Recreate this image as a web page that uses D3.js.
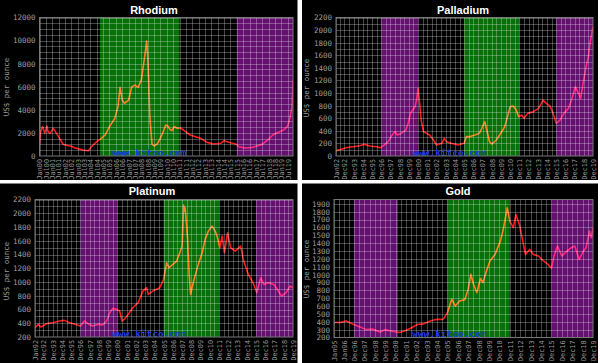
<!doctype html>
<html>
<head>
<meta charset="utf-8">
<style>
  body { margin: 0; background: #fff; }
  svg { display: block; }
</style>
</head>
<body>
<svg width="600" height="363"></svg>
<script src="https://d3js.org/d3.v7.min.js"></script>
<script>
  const parseMonth = d3.timeParse("%Y-%m");
  const parseTick = d3.timeParse("%b%y");

  // prices in US$ per ounce
  const rhodium = [
    ["2000-01",1100],["2000-02",2100],["2000-04",2540],["2000-06",1960],["2000-08",2600],["2000-09",2100],
    ["2000-11",1960],["2001-01",2250],["2001-02",2400],["2001-05",1960],["2001-08",1530],["2001-11",1040],
    ["2002-01",950],["2002-06",865],["2002-12",660],["2003-06",520],["2003-11",460],["2004-02",800],
    ["2004-07",1240],["2004-10",1440],["2005-03",1820],["2005-07",2540],["2005-12",3260],["2006-03",4270],
    ["2006-05",5940],["2006-07",4850],["2006-09",4560],["2007-01",4850],["2007-04",6000],["2007-07",6140],
    ["2007-10",5940],["2008-01",6580],["2008-03",7875],["2008-05",9170],["2008-06",9950],["2008-07",8740],
    ["2008-08",6290],["2008-09",3400],["2008-11",1040],["2009-01",865],["2009-04",1040],["2009-06",1380],
    ["2009-09",1960],["2009-12",2680],["2010-02",2600],["2010-04",2300],["2010-06",2200],["2010-08",2540],
    ["2010-11",2400],["2011-02",2420],["2011-07",2100],["2011-11",1820],["2012-04",1670],["2012-09",1530],
    ["2013-03",1180],["2013-09",1040],["2014-04",1100],["2014-07",1330],["2015-01",1150],["2015-06",1040],
    ["2015-09",800],["2016-03",690],["2016-10",750],["2017-02",865],["2017-07",1010],["2017-12",1380],
    ["2018-05",1820],["2018-09",2020],["2019-02",2200],["2019-05",2400],["2019-07",2600],["2019-09",3260],
    ["2019-11",4270],["2019-12",6580]
  ];
  const palladium = [
    ["1992-01",85],["1992-08",106],["1993-02",132],["1993-11",148],["1994-08",164],["1995-02",185],
    ["1995-09",159],["1996-06",148],["1996-11",132],["1997-04",175],["1997-09",227],["1998-02",333],
    ["1998-06",386],["1998-09",333],["1999-02",360],["1999-08",412],["1999-11",518],["2000-02",677],
    ["2000-05",730],["2000-08",783],["2000-10",888],["2000-12",1073],["2001-02",836],["2001-04",571],
    ["2001-07",386],["2001-11",360],["2002-03",333],["2002-08",254],["2002-12",175],["2003-07",201],
    ["2003-10",280],["2004-01",227],["2004-07",201],["2005-04",175],["2005-12",201],["2006-03",307],
    ["2006-07",307],["2007-02",333],["2007-08",360],["2008-01",492],["2008-03",545],["2008-05",440],
    ["2008-09",230],["2008-12",190],["2009-06",254],["2010-01",386],["2010-05",465],["2010-09",650],
    ["2010-12",783],["2011-04",793],["2011-08",730],["2011-11",624],["2012-03",650],["2012-06",598],
    ["2012-11",677],["2013-06",703],["2014-01",756],["2014-07",888],["2014-11",836],["2015-04",793],
    ["2015-08",677],["2015-12",518],["2016-05",571],["2016-10",677],["2017-04",756],["2017-08",888],
    ["2018-01",1100],["2018-05",994],["2018-08",915],["2018-11",1153],["2019-03",1417],["2019-06",1576],
    ["2019-08",1787],["2019-12",2052]
  ];
  const platinum = [
    ["1992-01",336],["1992-05",384],["1992-09",345],["1993-04",394],["1993-12",408],["1994-09",432],
    ["1995-03",442],["1995-10",408],["1996-05",384],["1996-12",360],["1997-05",432],["1997-10",394],
    ["1998-04",360],["1998-11",384],["1999-05",374],["1999-10",432],["2000-02",554],["2000-06",616],
    ["2000-11",602],["2001-03",578],["2001-06",432],["2001-09",457],["2002-02",529],["2002-08",626],
    ["2003-03",699],["2003-09",868],["2004-02",917],["2004-04",820],["2004-10",868],["2005-07",917],
    ["2005-12",1038],["2006-04",1280],["2006-07",1207],["2006-12",1256],["2007-05",1304],["2007-09",1425],
    ["2007-12",1520],["2008-02",2120],["2008-03",2030],["2008-04",2080],["2008-07",1650],["2008-09",1150],
    ["2008-11",820],["2009-03",1014],["2009-09",1256],["2010-02",1425],["2010-06",1619],["2010-10",1740],
    ["2011-03",1813],["2011-07",1740],["2011-10",1643],["2012-01",1498],["2012-04",1667],["2012-07",1425],
    ["2012-11",1716],["2013-03",1498],["2013-09",1450],["2014-04",1522],["2014-08",1304],["2015-02",1110],
    ["2015-09",965],["2016-01",844],["2016-06",1062],["2016-10",965],["2017-04",989],["2017-11",965],
    ["2018-05",868],["2018-09",796],["2019-03",844],["2019-08",941],["2019-12",917]
  ];
  const gold = [
    ["1995-01",390],["1995-08",390],["1996-03",411],["1996-11",369],["1997-07",335],["1998-02",300],
    ["1998-10",306],["1999-06",270],["1999-12",300],["2000-05",285],["2001-01",270],["2001-05",263],
    ["2001-11",285],["2002-06",320],["2003-02",369],["2003-08",370],["2004-04",410],["2004-12",433],
    ["2005-07",430],["2005-12",517],["2006-05",686],["2006-09",600],["2007-02",665],["2007-08",680],
    ["2007-12",820],["2008-03",1004],["2008-06",877],["2008-10",771],["2009-02",950],["2009-05",898],
    ["2009-09",1046],["2010-01",1173],["2010-07",1257],["2011-01",1426],["2011-04",1553],["2011-08",1786],
    ["2011-09",1849],["2011-12",1680],["2012-04",1596],["2012-07",1765],["2012-11",1638],["2013-03",1426],
    ["2013-06",1257],["2013-11",1321],["2014-03",1257],["2014-09",1236],["2015-03",1173],["2015-08",1130],
    ["2015-12",1080],["2016-03",1236],["2016-07",1363],["2016-12",1236],["2017-06",1300],["2017-11",1342],
    ["2018-03",1363],["2018-08",1194],["2019-01",1300],["2019-04",1342],["2019-08",1553],["2019-10",1469],
    ["2019-12",1596]
  ];

  // x tick labels
  const rhodiumTicks = ["Jan00","Jul00","Jan01","Jul01","Jan02","Jul02","Jan03","Jul03","Jan04","Jul04",
    "Jan05","Jul05","Jan06","Jul06","Jan07","Jul07","Jan08","Jul08","Jan09","Jul09","Jan10","Jul10",
    "Jan11","Jul11","Jan12","Jul12","Jan13","Jul13","Jan14","Jul14","Jan15","Jul15","Jan16","Jul16",
    "Jan17","Jul17","Jan18","Jul18","Jan19","Jul19"];
  const pgmTicks = ["Jan92","Dec92","Dec93","Dec94","Dec95","Dec96","Dec97","Dec98","Dec99","Dec00",
    "Dec01","Dec02","Dec03","Dec04","Dec05","Dec06","Dec07","Dec08","Dec09","Dec10","Dec11","Dec12",
    "Dec13","Dec14","Dec15","Dec16","Dec17","Dec18","Dec19"];
  const goldTicks = ["Jan95","Jan96","Dec96","Dec97","Dec98","Dec99","Dec00","Dec01","Dec02","Dec03",
    "Dec04","Dec05","Dec06","Dec07","Dec08","Dec09","Dec10","Dec11","Dec12","Dec13","Dec14","Dec15",
    "Dec16","Dec17","Dec18","Dec19"];

  // y tick labels
  const rhodiumY = [0,2000,4000,6000,8000,10000,12000];
  const palladiumY = [0,200,400,600,800,1000,1200,1400,1600,1800,2000,2200];
  const platinumY = [200,400,600,800,1000,1200,1400,1600,1800,2000,2200];
  const goldY = [200,300,400,500,600,700,800,900,1000,1100,1200,1300,1400,1500,1600,1700,1800,1900];

  // shaded periods
  const rhodiumShades = [["green","2004-10","2011-01"],["purple","2015-07","2019-12"]];
  const pgmShades = [["purple","1996-12","2000-12"],["green","2005-12","2011-12"],["purple","2015-12","2019-12"]];
  const goldShades = [["purple","1996-12","2001-03"],["green","2005-12","2011-12"],["purple","2015-12","2019-12"]];

  const shadeColor = {green: "#087008", purple: "#64106f"};
  const mono = "'DejaVu Sans Mono', monospace";

  const panels = [
    {title: "Rhodium", data: rhodium, xTicks: rhodiumTicks, yTicks: rhodiumY, shades: rhodiumShades,
     xDom: ["2000-01","2019-12"], yDom: [0,12000], yGrid: 500, halfGrid: false,
     box: [0,0,297.5,180], l: 39.5, t: 17.5, r: 293, b: 156, titleX: 154, titleY: 13.5, yt: [6,87], markX: 112},
    {title: "Palladium", data: palladium, xTicks: pgmTicks, yTicks: palladiumY, shades: pgmShades,
     xDom: ["1992-01","2019-12"], yDom: [0,2200], yGrid: 100, halfGrid: true,
     box: [302,0,296,180], l: 336, t: 17.5, r: 593, b: 156, titleX: 463, titleY: 13.5, yt: [306.5,88], markX: 412},
    {title: "Platinum", data: platinum, xTicks: pgmTicks, yTicks: platinumY, shades: pgmShades,
     xDom: ["1992-01","2019-12"], yDom: [200,2200], yGrid: 100, halfGrid: true,
     box: [0,183.5,297.5,179.5], l: 35, t: 199.5, r: 293, b: 337, titleX: 152, titleY: 194.5, yt: [6,271], markX: 112},
    {title: "Gold", data: gold, xTicks: goldTicks, yTicks: goldY, shades: goldShades,
     xDom: ["1995-01","2019-12"], yDom: [200,1955], yGrid: 100, halfGrid: true,
     box: [302,183.5,296,179.5], l: 334, t: 199.5, r: 593, b: 337.5, titleX: 458, titleY: 194.5, yt: [306,269], markX: 412}
  ];

  const svg = d3.select("svg");

  panels.forEach((p, i) => {
    const g = svg.append("g");
    const [bx, by, bw, bh] = p.box;
    g.append("rect").attr("x", bx).attr("y", by).attr("width", bw).attr("height", bh).attr("fill", "#000");

    let x = d3.scaleTime().domain(p.xDom.map(parseMonth)).range([p.l, p.r]);
    let y = d3.scaleLinear().domain(p.yDom).range([p.b, p.t]);

    g.append("clipPath").attr("id", "clip" + i)
      .append("rect").attr("x", p.l).attr("y", p.t).attr("width", p.r - p.l).attr("height", p.b - p.t);
    let plot = g.append("g").attr("clip-path", `url(#clip${i})`);

    plot.selectAll(".shade").data(p.shades).enter().append("rect")
      .attr("x", d => x(parseMonth(d[1])))
      .attr("width", d => x(parseMonth(d[2])) - x(parseMonth(d[1])))
      .attr("y", p.t).attr("height", p.b - p.t)
      .attr("fill", d => shadeColor[d[0]]);

    // grid
    let tickDates = p.xTicks.map(parseTick);
    let gridDates = tickDates.slice();
    if (p.halfGrid) {
      for (let k = 1; k < tickDates.length; k++)
        gridDates.push(new Date((+tickDates[k - 1] + +tickDates[k]) / 2));
    }
    plot.selectAll(".vg").data(gridDates).enter().append("line")
      .attr("x1", d => Math.round(x(d)) + 0.5).attr("x2", d => Math.round(x(d)) + 0.5)
      .attr("y1", p.t).attr("y2", p.b)
      .attr("stroke", "#fff").attr("stroke-opacity", 0.27);
    plot.selectAll(".hg").data(d3.range(p.yDom[0], p.yDom[1] + 1, p.yGrid)).enter().append("line")
      .attr("y1", d => Math.round(y(d)) + 0.5).attr("y2", d => Math.round(y(d)) + 0.5)
      .attr("x1", p.l).attr("x2", p.r)
      .attr("stroke", "#fff").attr("stroke-opacity", 0.27);

    plot.append("text")
      .attr("x", p.markX).attr("y", p.b - 0.5)
      .attr("fill", "#1c3be0").attr("font-family", mono).attr("font-weight", "bold").attr("font-size", 9.5)
      .text("www.kitco.com");

    let line = d3.line()
      .x(d => x(parseMonth(d[0])))
      .y(d => y(d[1]));
    plot.append("path").datum(p.data)
      .attr("d", line)
      .attr("fill", "none").attr("stroke", "#ff1a1a").attr("stroke-width", 1.6)
      .attr("stroke-linejoin", "round")
      .style("mix-blend-mode", "screen");

    g.append("rect").attr("x", p.l).attr("y", p.t).attr("width", p.r - p.l).attr("height", p.b - p.t)
      .attr("fill", "none").attr("stroke", "#777");

    // axes
    g.append("g").attr("transform", `translate(${p.l},0)`)
      .call(d3.axisLeft(y).tickValues(p.yTicks).tickSize(0).tickPadding(4).tickFormat(d3.format("d")))
      .call(a => a.select(".domain").remove())
      .attr("font-family", mono).attr("font-size", 7.5).attr("color", "#9c9c9c");

    g.append("g").attr("transform", `translate(0,${p.b})`)
      .call(d3.axisBottom(x).tickValues(tickDates).tickSize(0).tickFormat(d3.timeFormat("%b%y")))
      .call(a => a.select(".domain").remove())
      .attr("font-family", mono).attr("font-size", 6.8).attr("color", "#9c9c9c")
      .selectAll("text")
      .attr("transform", "rotate(-90)")
      .attr("text-anchor", "end")
      .attr("x", -3).attr("y", 0).attr("dy", "0.35em");

    g.append("text")
      .attr("transform", `translate(${p.yt[0]},${p.yt[1]}) rotate(-90)`)
      .attr("text-anchor", "middle").attr("dy", "0.35em")
      .attr("fill", "#9c9c9c").attr("font-family", mono).attr("font-size", 7.5)
      .text("US$ per ounce");

    g.append("text")
      .attr("x", p.titleX).attr("y", p.titleY)
      .attr("text-anchor", "middle").attr("fill", "#fff")
      .attr("font-family", "'Liberation Sans', Arial, sans-serif").attr("font-weight", "bold").attr("font-size", 11)
      .text(p.title);
  });
</script>
</body>
</html>
